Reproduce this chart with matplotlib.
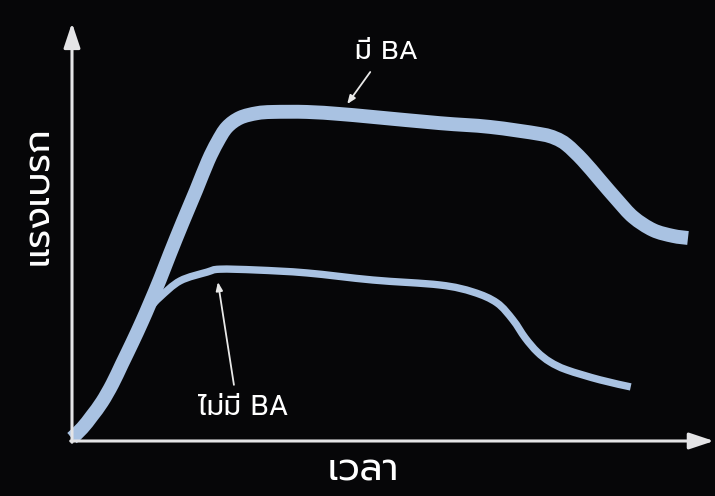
import matplotlib
matplotlib.use('Agg')
import matplotlib.pyplot as plt
from matplotlib.path import Path
from matplotlib.patches import PathPatch

plt.rcParams['font.family'] = ['Prompt', 'DejaVu Sans']

# braking force over time, with and without Brake Assist (BA)
t_ba = [0, 1.6, 3.1, 4.7, 6.3, 7.8, 9.4, 10.9, 12.2, 13.75, 15.3, 17.3, 19.4,
        21.25, 22.7, 24.2, 26.25, 28.9, 31.4, 36.7, 41.9, 47.0, 57.5, 65.3,
        73.1, 75.5, 77.3, 79.8, 82.5, 85.2, 87.7, 90.8, 93.9, 96.25]
force_ba = [0.7, 3.1, 6.0, 9.4, 13.7, 18.5, 23.6, 28.6, 33.2, 38.9, 45.0, 52.6,
            60.3, 67.3, 71.8, 75.4, 77.7, 78.8, 79.1, 79.1, 78.6, 77.9, 76.4,
            75.5, 73.8, 72.8, 71.2, 67.5, 62.7, 57.9, 53.8, 50.7, 49.3, 48.8]

t_no = [0, 1.6, 3.1, 4.7, 6.3, 7.8, 9.4, 10.9, 12.2, 13.75, 16.9, 21.1, 23.1,
        28.9, 36.7, 47.0, 57.5, 62.7, 66.4, 68.9, 70.8, 72.7, 74.7, 77.3,
        82.5, 87.3]
force_no = [0.7, 3.1, 6.0, 9.4, 13.7, 18.5, 23.6, 28.6, 32.0, 34.6, 38.5, 40.6,
            41.3, 41.1, 40.4, 38.7, 37.5, 35.8, 33.2, 29.1, 24.8, 21.4, 19.0,
            17.1, 14.7, 13.0]

bg = '#060608'
curve = '#a9c2e2'
axis_col = '#e4e4e6'


def smooth_path(xs, ys):
    # catmull-rom through the points, as cubic bezier segments
    pts = list(zip(xs, ys))
    verts = [pts[0]]
    codes = [Path.MOVETO]
    for i in range(len(pts) - 1):
        p0 = pts[max(i - 1, 0)]
        p1 = pts[i]
        p2 = pts[i + 1]
        p3 = pts[min(i + 2, len(pts) - 1)]
        c1 = (p1[0] + (p2[0] - p0[0]) / 6, p1[1] + (p2[1] - p0[1]) / 6)
        c2 = (p2[0] - (p3[0] - p1[0]) / 6, p2[1] - (p3[1] - p1[1]) / 6)
        verts += [c1, c2, p2]
        codes += [Path.CURVE4] * 3
    return Path(verts, codes)


fig = plt.figure(figsize=(7.15, 4.96), dpi=100, facecolor=bg)
ax = fig.add_axes([72 / 715, 55 / 496, 640 / 715, 416 / 496])
ax.set_facecolor(bg)
ax.set_xlim(0, 100)
ax.set_ylim(0, 100)
ax.axis('off')

ax.add_patch(PathPatch(smooth_path(t_no, force_no), fill=False, edgecolor=curve,
                       lw=5.3, capstyle='butt', joinstyle='round', clip_on=False))
ax.add_patch(PathPatch(smooth_path(t_ba, force_ba), fill=False, edgecolor=curve,
                       lw=10, capstyle='butt', joinstyle='round', clip_on=False))

# axes with arrow heads
arrow = dict(arrowstyle='-|>,head_length=1.5,head_width=0.5', color=axis_col,
             lw=2.2, shrinkA=0, shrinkB=0)
ax.annotate('', xy=(100.3, 0), xytext=(-0.2, 0), arrowprops=arrow, annotation_clip=False)
ax.annotate('', xy=(0, 100.5), xytext=(0, -0.3), arrowprops=arrow, annotation_clip=False)

ax.text(-5.2, 59, 'แรงเบรก', rotation=90, color='white', fontsize=26.5,
        ha='center', va='center', clip_on=False)
ax.text(45.5, -7, 'เวลา', color='white', fontsize=27, ha='center', va='center',
        clip_on=False)

pointer = dict(arrowstyle='-|>,head_length=0.5,head_width=0.2', color='#e8e8e8',
               lw=1.3, shrinkA=0, shrinkB=0)
ax.text(49.1, 93.5, 'มี BA', color='white', fontsize=19, ha='center', va='center')
ax.annotate('', xy=(43.0, 81.0), xytext=(46.6, 88.7), arrowprops=pointer)
ax.text(26.7, 8.0, 'ไม่มี BA', color='white', fontsize=19.5, ha='center', va='center')
ax.annotate('', xy=(22.8, 38.2), xytext=(25.3, 13.5), arrowprops=pointer)

fig.savefig('out.png', dpi=100, facecolor=bg)
